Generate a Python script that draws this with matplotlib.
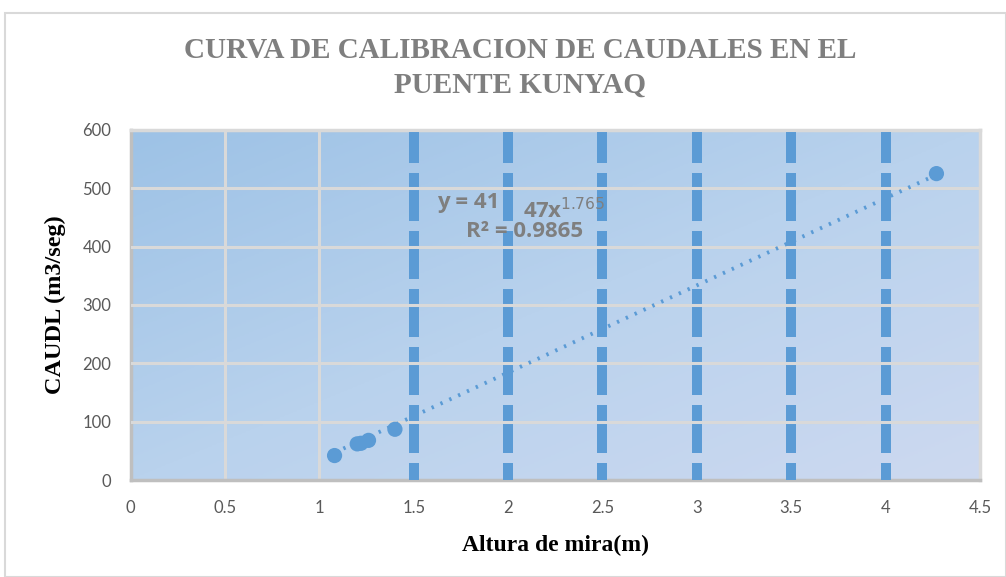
import matplotlib
matplotlib.use("Agg")
import matplotlib.pyplot as plt
import numpy as np
from matplotlib.colors import LinearSegmentedColormap
from matplotlib.patches import Rectangle

# datos
altura = [1.08, 1.20, 1.22, 1.26, 1.40, 4.27]
caudal = [42, 62, 63, 68, 87, 525]
# linea de tendencia (tal como se dibuja)
tend_x = [1.08, 4.27]
tend_y = [47, 523]
x_ticks = [0, 0.5, 1, 1.5, 2, 2.5, 3, 3.5, 4, 4.5]
y_ticks = [0, 100, 200, 300, 400, 500, 600]
ecuacion_a = "y = 41"
ecuacion_b = "47x$^{1.765}$"
ecuacion_r2 = "R² = 0.9865"

azul = "#5b9bd5"
gris_txt = "#595959"

fig = plt.figure(figsize=(10.06, 5.77), dpi=100)
fig.patches.append(Rectangle((0.005, 0.0), 0.995, 0.978, transform=fig.transFigure,
                             fill=False, edgecolor="#d9d9d9", lw=1.5))
ax = fig.add_axes([0.130, 0.168, 0.844, 0.607])
ax.set_xlim(0, 4.5)
ax.set_ylim(0, 600)

# fondo degradado (oscuro arriba a la izquierda)
g = np.linspace(0, 1, 200)
gx, gy = np.meshgrid(g, g)
grad = (gx + gy) / 2
cmap = LinearSegmentedColormap.from_list("fondo", ["#9dc2e6", "#b9d2ed", "#cdd9f0"])
ax.imshow(grad, extent=[0, 1, 0, 1], transform=ax.transAxes, cmap=cmap,
          aspect="auto", zorder=0, origin="upper")

# rejilla
for yv in y_ticks[1:]:
    ax.axhline(yv, color="#d9d9d9", lw=2.2, zorder=1)
for xv in x_ticks[1:3]:
    ax.axvline(xv, color="#d9d9d9", lw=2.2, zorder=1)

for xv in x_ticks[3:-1]:
    ax.axvline(xv, color=azul, lw=7.2, linestyle=(3.1, (4.8, 1.0)), zorder=3)
for yv in y_ticks[1:]:
    ax.axhline(yv, color="#d9d9d9", lw=2.2, zorder=3.5)

ax.plot(tend_x, tend_y, color=azul, lw=2.8, linestyle=(0, (0.6, 1.9)), zorder=4)
ax.scatter(altura, caudal, s=120, color=azul, edgecolors="none", zorder=5)

eq_kw = dict(fontsize=16, fontweight="bold", color="#7f7f7f", family="Open Sans",
             va="center", zorder=6)
ax.text(1.625, 476, ecuacion_a, **eq_kw)
ax.text(2.08, 461, ecuacion_b, **eq_kw)
ax.text(1.775, 425, ecuacion_r2, **eq_kw)

for s in ["top", "right"]:
    ax.spines[s].set_color("#d9d9d9")
    ax.spines[s].set_linewidth(2.5)
for s in ["left", "bottom"]:
    ax.spines[s].set_color("#bfbfbf")
    ax.spines[s].set_linewidth(2.5)

ax.set_xticks(x_ticks)
ax.set_xticklabels([str(v) for v in x_ticks])
ax.set_yticks(y_ticks)
ax.tick_params(length=0, labelsize=12, labelcolor=gris_txt, pad=14)
for lab in ax.get_xticklabels() + ax.get_yticklabels():
    lab.set_family("Lato")
ax.tick_params(axis="x", pad=14)

ax.set_xlabel("Altura de mira(m)", family="Liberation Serif", fontweight="bold",
              fontsize=17, color="black", labelpad=14)
ax.set_ylabel("CAUDL (m3/seg)", family="Liberation Serif", fontweight="bold",
              fontsize=17.5, color="black", labelpad=12)

fig.text(0.517, 0.882, "CURVA DE CALIBRACION DE CAUDALES EN EL\nPUENTE KUNYAQ",
         ha="center", va="center", family="Liberation Serif", fontweight="bold",
         fontsize=21, color="#7f7f7f", linespacing=1.35)

fig.savefig("out.png", dpi=100)
